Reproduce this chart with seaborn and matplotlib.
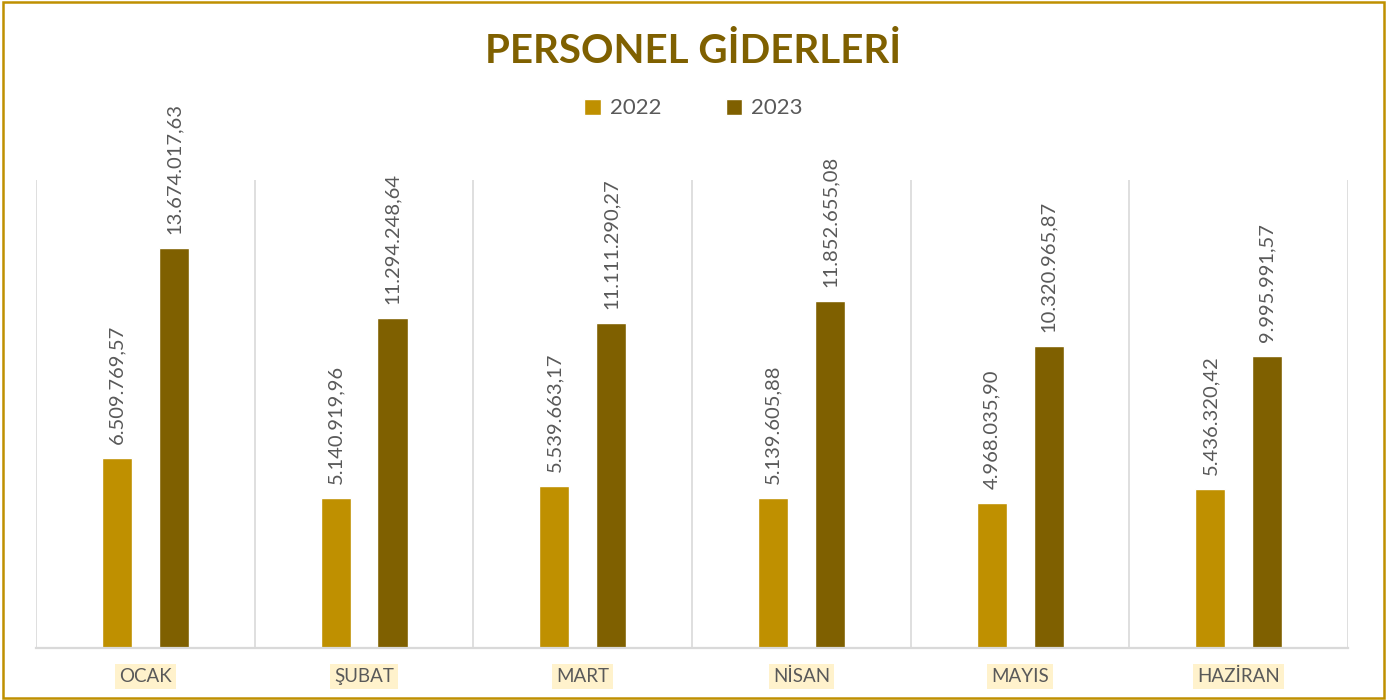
"""Personel giderleri: 2022 vs 2023 monthly comparison bar chart."""

import matplotlib

matplotlib.use("Agg")

import matplotlib.pyplot as plt
import pandas as pd
import seaborn as sns
from matplotlib.patches import Rectangle

MONTHS = ["OCAK", "ŞUBAT", "MART", "NİSAN", "MAYIS", "HAZİRAN"]
YEARS = ["2022", "2023"]
VALUES_2022 = [6509769.57, 5140919.96, 5539663.17, 5139605.88, 4968035.90, 5436320.42]
VALUES_2023 = [13674017.63, 11294248.64, 11111290.27, 11852655.08, 10320965.87, 9995991.57]

COLORS = {"2022": "#BF9000", "2023": "#7F6000"}
GRID = "#D9D9D9"
TEXT = "#595959"

sns.set_theme(style="white")
plt.rcParams["font.family"] = ["Lato", "DejaVu Sans"]


def tr_format(v: float) -> str:
    """Turkish number format: 13.674.017,63"""
    s = f"{v:,.2f}"
    return s.replace(",", "X").replace(".", ",").replace("X", ".")


df = pd.DataFrame(
    {
        "month": MONTHS * 2,
        "year": [YEARS[0]] * len(MONTHS) + [YEARS[1]] * len(MONTHS),
        "value": VALUES_2022 + VALUES_2023,
    }
)

fig = plt.figure(figsize=(13.87, 7.0), dpi=100)
ax = fig.add_axes([0.026, 0.074, 0.946, 0.669])

sns.barplot(
    data=df, x="month", y="value", hue="year", palette=COLORS,
    width=0.52, gap=0.47, ax=ax, legend=True, saturation=1,
)

ax.set_ylim(0, 16_000_000)
ax.set_xlim(-0.5, len(MONTHS) - 0.5)
ax.set_yticks([])
ax.set_xlabel("")
ax.set_ylabel("")
for side in ["top", "left", "right"]:
    ax.spines[side].set_visible(False)
ax.spines["bottom"].set_color(GRID)
ax.spines["bottom"].set_linewidth(1.6)

# vertical gridlines between categories
for x in range(len(MONTHS) + 1):
    ax.axvline(x - 0.5, color=GRID, linewidth=1.2, zorder=0)

# data labels
for container in ax.containers:
    ax.bar_label(
        container, labels=[tr_format(v) for v in container.datavalues],
        rotation=90, padding=10, color=TEXT, fontsize=14.5,
    )

ax.tick_params(axis="x", length=0, pad=14)
for lbl in ax.get_xticklabels():
    lbl.set_color(TEXT)
    lbl.set_fontsize(13.5)
    lbl.set_bbox(dict(facecolor="#FFF2CC", edgecolor="none", pad=3))

ax.legend_.remove()
handles, labels = ax.get_legend_handles_labels()
fig.legend(
    handles, labels, loc="center", bbox_to_anchor=(0.5, 0.845), ncol=2,
    frameon=False, handlelength=0.75, handleheight=0.75, handletextpad=0.4,
    columnspacing=2.9, fontsize=16, labelcolor=TEXT,
)

fig.text(
    0.5, 0.926, "PERSONEL GİDERLERİ", ha="center", va="center",
    fontsize=29, fontweight="bold", color="#7F6000",
)

fig.patches.append(
    Rectangle((0.002, 0.003), 0.996, 0.994, transform=fig.transFigure,
              fill=False, edgecolor="#BF9000", linewidth=1.8)
)

fig.savefig("out.png", dpi=100)
